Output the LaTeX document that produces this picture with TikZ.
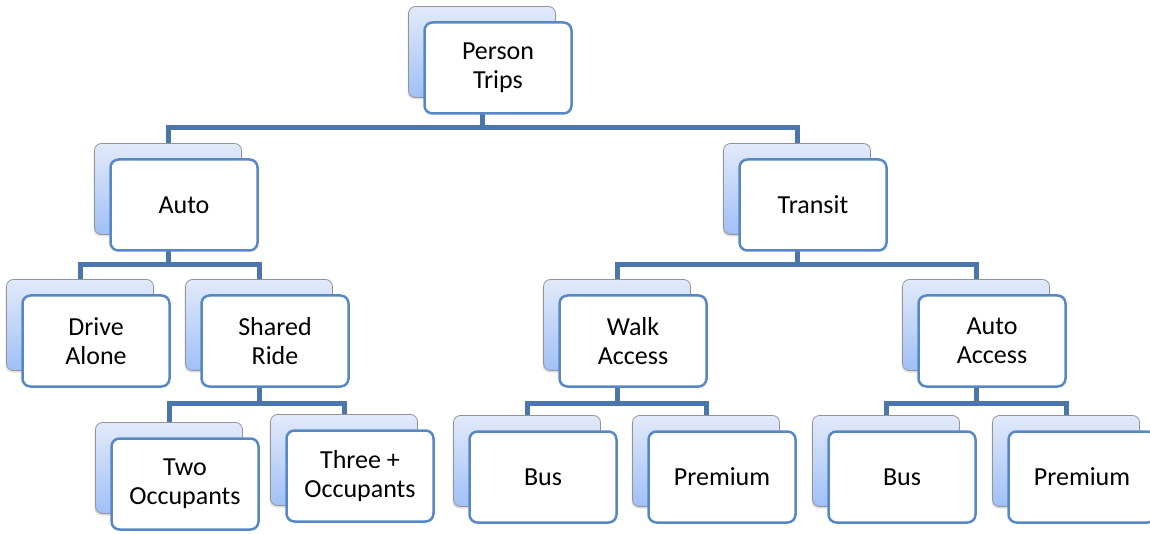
\documentclass[tikz,border=0pt]{standalone}
\usepackage{fontspec}
\setmainfont{Carlito}
\usetikzlibrary{shadows,backgrounds}
\definecolor{linkblue}{RGB}{74,118,172}
\definecolor{edgeblue}{RGB}{88,136,196}
\definecolor{backtop}{RGB}{226,234,250}
\definecolor{backbot}{RGB}{160,192,246}
\tikzset{
  backbox/.style={rectangle, rounded corners=7pt, minimum width=147pt, minimum height=91pt,
    draw=gray!85, line width=0.8pt, top color=backtop, bottom color=backbot,
    drop shadow={shadow xshift=-1pt, shadow yshift=-2pt, opacity=.25}},
  frontbox/.style={rectangle, rounded corners=8pt, minimum width=147pt, minimum height=91pt,
    draw=edgeblue, line width=2.5pt, fill=white, align=center,
    font=\fontsize{26}{29}\selectfont},
  link/.style={draw=linkblue, line width=5pt}
}
\newcommand{\tripbox}[4]{%
  \node[backbox] (#1bk) at (#2,#3) {};
  \node[frontbox] (#1) at (#2+16,#3+16) {#4};
}
\begin{document}
\begin{tikzpicture}[x=1pt,y=-1pt]
\useasboundingbox (0,0) rectangle (1150,534);
\coordinate (lvla) at (0,128);
\coordinate (lvlb) at (0,265);
\coordinate (lvlc) at (0,403);

\tripbox{trips}{482}{52}{Person\\Trips}
\tripbox{auto}{168}{189}{Auto}
\tripbox{transit}{797}{189}{Transit}
\tripbox{drive}{80}{325}{Drive\\Alone}
\tripbox{shared}{259}{325}{Shared\\Ride}
\tripbox{walk}{617}{325}{Walk\\Access}
\tripbox{autoacc}{976}{325}{Auto\\Access}
\tripbox{two}{169}{468}{Two\\Occupants}
\tripbox{three}{344}{460}{Three +\\Occupants}
\tripbox{walkbus}{527}{461}{Bus}
\tripbox{walkprem}{706}{461}{Premium}
\tripbox{autobus}{886}{461}{Bus}
\tripbox{autoprem}{1066}{461}{Premium}

\begin{scope}[on background layer]
\draw[link] (tripsbk.center) -- (tripsbk.center |- lvla) -| (autobk.north);
\draw[link] (tripsbk.center) -- (tripsbk.center |- lvla) -| (transitbk.north);
\draw[link] (autobk.center) -- (autobk.center |- lvlb) -| (drivebk.north);
\draw[link] (autobk.center) -- (autobk.center |- lvlb) -| (sharedbk.north);
\draw[link] (transitbk.center) -- (transitbk.center |- lvlb) -| (walkbk.north);
\draw[link] (transitbk.center) -- (transitbk.center |- lvlb) -| (autoaccbk.north);
\draw[link] (sharedbk.center) -- (sharedbk.center |- lvlc) -| (twobk.north);
\draw[link] (sharedbk.center) -- (sharedbk.center |- lvlc) -| (threebk.north);
\draw[link] (walkbk.center) -- (walkbk.center |- lvlc) -| (walkbusbk.north);
\draw[link] (walkbk.center) -- (walkbk.center |- lvlc) -| (walkprembk.north);
\draw[link] (autoaccbk.center) -- (autoaccbk.center |- lvlc) -| (autobusbk.north);
\draw[link] (autoaccbk.center) -- (autoaccbk.center |- lvlc) -| (autoprembk.north);
\end{scope}
\end{tikzpicture}
\end{document}
